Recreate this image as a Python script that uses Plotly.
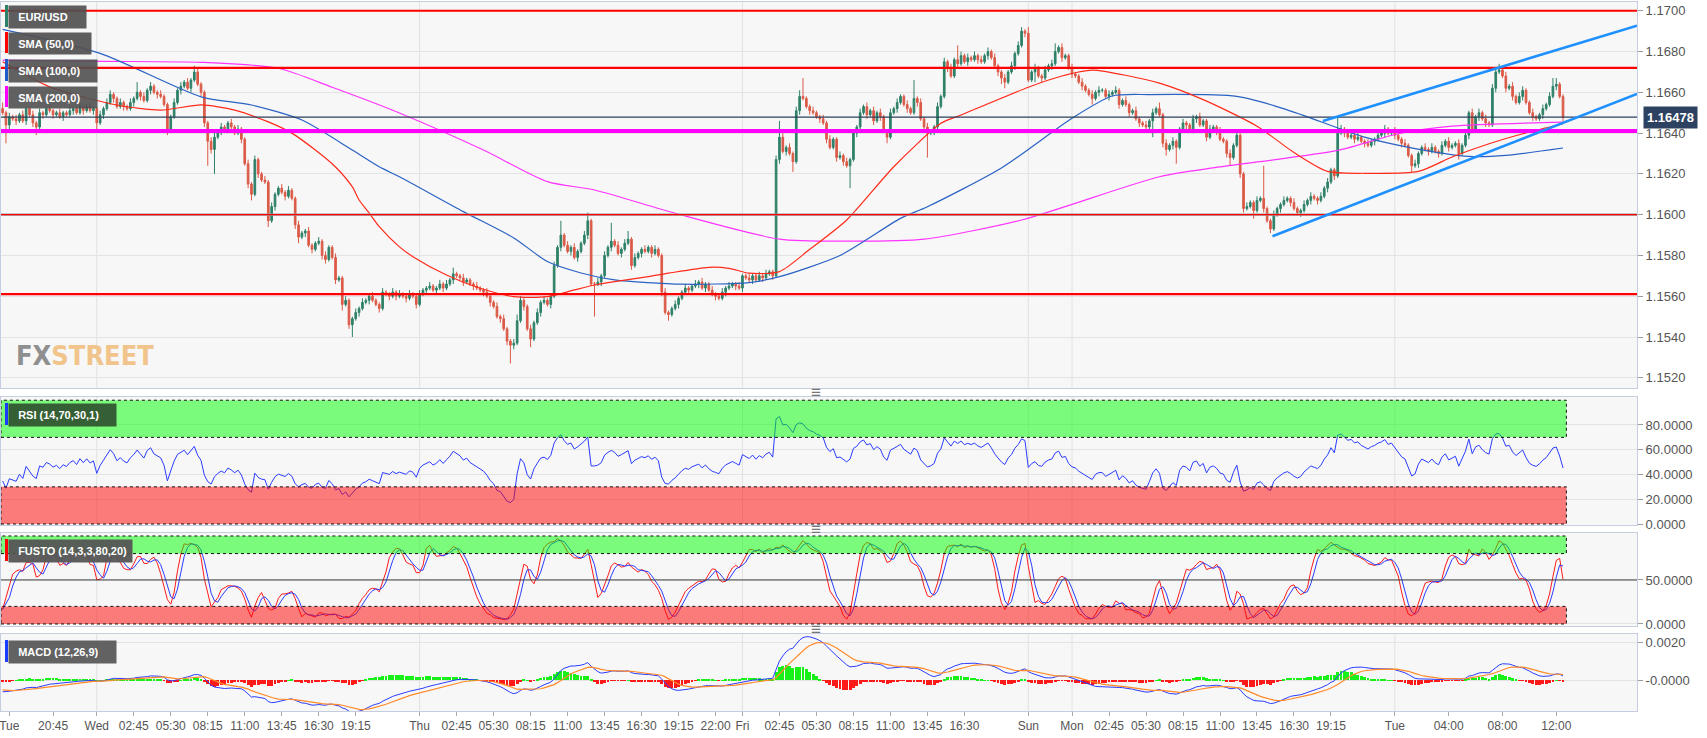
import numpy as np
import pandas as pd
import plotly.graph_objects as go
from plotly.subplots import make_subplots

# ---------------------------------------------------------------- data
PIP = 0.0001
BASE_PRICE = 1.1500          # closes / wicks below are pips above this base

first_open_pips = 152
close_pips = [
    150, 144, 148, 147, 146, 149, 146, 152, 149, 145,
    143, 150, 149, 152, 151, 149, 150, 148, 150, 149,
    151, 152, 150, 153, 151, 153, 151, 152, 145, 149,
    152, 155, 159, 157, 153, 155, 153, 152, 155, 157,
    160, 158, 156, 161, 163, 160, 159, 158, 154, 142,
    148, 155, 161, 163, 165, 162, 166, 170, 164, 160,
    145, 136, 132, 138, 141, 143, 141, 145, 143, 140,
    142, 137, 125, 115, 110, 127, 120, 117, 116, 97,
    104, 110, 113, 111, 109, 112, 108, 95, 89, 91,
    92, 85, 83, 86, 87, 80, 78, 84, 79, 68,
    69, 56, 58, 46, 49, 52, 54, 57, 58, 60,
    58, 56, 54, 62, 61, 60, 62, 60, 61, 60,
    59, 61, 60, 56, 61, 63, 64, 65, 63, 64,
    66, 64, 66, 68, 71, 70, 69, 67, 68, 66,
    65, 64, 63, 62, 60, 57, 55, 50, 49, 44,
    38, 36, 37, 48, 58, 55, 44, 39, 47, 52,
    57, 58, 56, 60, 75, 84, 90, 85, 82, 84,
    79, 82, 86, 90, 97, 66, 66, 67, 70, 80,
    84, 87, 85, 81, 83, 86, 88, 75, 79, 81,
    83, 82, 84, 81, 83, 80, 62, 52, 51, 54,
    56, 59, 62, 64, 63, 65, 66, 67, 64, 66,
    63, 61, 60, 59, 62, 64, 65, 66, 65, 64,
    70, 69, 68, 70, 68, 70, 69, 71, 72, 70,
    127, 138, 131, 133, 130, 126, 151, 158, 157, 153,
    151, 150, 148, 147, 145, 137, 133, 137, 128, 129,
    126, 124, 127, 140, 143, 150, 153, 149, 151, 146,
    150, 148, 141, 138, 150, 152, 155, 158, 154, 152,
    150, 157, 155, 147, 143, 140, 141, 143, 153, 158,
    175, 172, 168, 176, 174, 178, 175, 177, 176, 178,
    176, 175, 178, 180, 177, 173, 170, 167, 165, 170,
    173, 179, 183, 190, 189, 166, 170, 172, 168, 167,
    171, 173, 174, 180, 182, 177, 178, 172, 169, 168,
    165, 163, 161, 159, 157, 160, 161, 161, 158, 159,
    160, 161, 154, 156, 154, 150, 151, 147, 145, 144,
    143, 146, 150, 152, 149, 135, 132, 134, 136, 133,
    142, 145, 144, 141, 147, 148, 144, 146, 138, 142,
    143, 141, 137, 136, 130, 128, 134, 139, 120, 103,
    104, 106, 102, 107, 108, 103, 97, 93, 100, 103,
    105, 107, 108, 106, 103, 101, 102, 105, 107, 109,
    108, 107, 109, 113, 116, 122, 119, 140, 142, 140,
    138, 139, 137, 138, 136, 135, 134, 136, 137, 139,
    140, 142, 140, 141, 139, 137, 135, 134, 129, 124,
    125, 130, 133, 132, 131, 133, 131, 130, 134, 136,
    133, 134, 135, 130, 134, 139, 150, 141, 148, 150,
    147, 145, 144, 162, 170, 171, 168, 162, 163, 158,
    155, 158, 161, 155, 150, 148, 147, 149, 152, 154,
    158, 163, 164, 158, 147.8]

wick_up_pips = [
    3, 1, 2, 1, 2, 1, 2, 1, 1, 2,   1, 2, 1, 1, 2, 1, 1, 2, 1, 1,
    2, 1, 1, 2, 1, 1, 2, 1, 1, 2,   1, 2, 2, 1, 1, 2, 1, 1, 2, 1,
    5, 1, 2, 1, 2, 1, 1, 2, 1, 1,   1, 2, 1, 2, 1, 2, 1, 3, 2, 1,
    1, 1, 2, 3, 1, 2, 1, 1, 2, 1,   2, 1, 1, 2, 1, 2, 1, 1, 2, 1,
    2, 1, 1, 2, 1, 2, 1, 1, 2, 1,   1, 2, 1, 1, 2, 1, 2, 1, 1, 2,
    1, 1, 2, 1, 1, 2, 1, 2, 1, 1,   2, 1, 1, 2, 1, 1, 2, 1, 2, 1,
    1, 2, 1, 1, 2, 1, 1, 2, 1, 1,   2, 1, 2, 1, 3, 1, 1, 2, 1, 1,
    1, 2, 1, 1, 2, 1, 1, 2, 1, 2,   1, 1, 2, 3, 2, 1, 1, 2, 1, 2,
    1, 2, 1, 1, 2, 1, 7, 1, 2, 1,   2, 1, 1, 2, 4, 1, 1, 2, 1, 2,
    1, 9, 1, 2, 1, 2, 4, 1, 2, 1,   1, 2, 1, 1, 2, 1, 1, 2, 1, 1,
    2, 1, 1, 2, 1, 1, 2, 1, 2, 1,   1, 2, 1, 1, 2, 1, 2, 1, 1, 2,
    1, 1, 2, 1, 1, 2, 1, 2, 1, 1,   2, 8, 2, 1, 2, 1, 2, 3, 9, 1,
    1, 2, 1, 1, 2, 1, 2, 1, 1, 2,   1, 2, 1, 2, 1, 2, 1, 2, 1, 2,
    1, 2, 1, 1, 2, 1, 2, 1, 1, 2,   1, 9, 1, 2, 1, 2, 1, 1, 2, 1,
    2, 1, 2, 1, 7, 2, 1, 2, 1, 2,   1, 2, 1, 2, 1, 2, 1, 1, 2, 1,
    2, 1, 2, 2, 1, 3, 1, 2, 1, 1,   2, 1, 2, 4, 1, 2, 1, 1, 2, 1,
    1, 2, 1, 1, 2, 1, 2, 1, 1, 2,   1, 2, 1, 1, 2, 1, 1, 2, 1, 1,
    2, 1, 2, 1, 3, 1, 2, 1, 2, 1,   1, 2, 1, 1, 2, 1, 2, 1, 1, 2,
    1, 1, 2, 1, 1, 2, 1, 2, 1, 1,   2, 1, 1, 2, 1, 16, 1, 1, 2, 1,
    1, 2, 1, 1, 2, 1, 1, 2, 1, 2,   1, 1, 2, 1, 2, 1, 1, 8, 2, 1,
    2, 1, 1, 2, 1, 1, 2, 1, 1, 2,   1, 2, 1, 1, 2, 1, 1, 2, 1, 1,
    2, 1, 1, 2, 1, 2, 1, 1, 2, 1,   2, 1, 1, 2, 1, 2, 1, 2, 1, 2,
    1, 2, 1, 2, 2, 3, 1, 2, 1, 2,   1, 2, 2, 1, 1, 2, 1, 1, 2, 1,
    2, 4, 3, 1, 1]

wick_dn_pips = [
    1, 9, 2, 1, 2, 1, 1, 2, 1, 2,   4, 1, 2, 1, 1, 2, 1, 1, 2, 1,
    1, 2, 1, 1, 2, 1, 1, 2, 4, 1,   2, 1, 1, 2, 1, 1, 2, 1, 1, 2,
    1, 2, 1, 1, 2, 1, 2, 1, 1, 3,   2, 1, 1, 2, 1, 1, 2, 1, 1, 2,
    2, 12, 2, 12, 1, 2, 1, 1, 2, 1, 1, 2, 1, 2, 3, 1, 2, 1, 1, 3,
    1, 2, 1, 1, 2, 1, 1, 2, 3, 1,   2, 1, 2, 1, 1, 2, 2, 1, 1, 2,
    1, 3, 1, 2, 6, 1, 2, 1, 1, 2,   1, 1, 2, 1, 1, 2, 1, 2, 1, 1,
    2, 1, 1, 2, 1, 1, 2, 1, 1, 2,   1, 2, 1, 1, 2, 1, 1, 2, 1, 1,
    2, 1, 1, 2, 1, 2, 1, 1, 2, 1,   2, 9, 2, 1, 1, 2, 1, 4, 1, 1,
    2, 1, 1, 2, 1, 1, 2, 1, 1, 2,   1, 2, 1, 1, 2, 1, 16, 1, 2, 1,
    1, 2, 1, 1, 2, 1, 1, 2, 1, 1,   2, 1, 1, 2, 1, 1, 2, 1, 3, 1,
    1, 2, 1, 1, 2, 1, 1, 2, 1, 2,   1, 1, 2, 1, 1, 2, 1, 1, 2, 1,
    2, 1, 1, 2, 1, 1, 2, 1, 1, 2,   1, 2, 1, 2, 1, 5, 1, 2, 1, 1,
    2, 1, 1, 2, 1, 2, 1, 1, 2, 1,   2, 1, 11, 1, 2, 1, 1, 2, 1, 2,
    1, 2, 1, 3, 1, 1, 2, 1, 1, 2,   1, 1, 2, 1, 2, 12, 1, 2, 1, 1,
    1, 2, 1, 1, 2, 1, 1, 2, 1, 1,   2, 1, 1, 2, 1, 1, 2, 3, 3, 1,
    1, 2, 1, 1, 2, 1, 1, 5, 1, 2,   1, 1, 2, 1, 1, 2, 1, 1, 2, 1,
    1, 2, 1, 1, 3, 1, 2, 1, 1, 2,   1, 1, 2, 1, 1, 2, 1, 1, 2, 1,
    2, 1, 8, 1, 1, 2, 3, 1, 2, 8,   1, 1, 2, 1, 1, 2, 1, 1, 2, 1,
    1, 2, 1, 1, 2, 4, 1, 1, 2, 2,   1, 1, 4, 1, 1, 2, 1, 2, 1, 1,
    2, 1, 1, 2, 1, 1, 2, 1, 1, 2,   1, 2, 1, 1, 2, 1, 2, 1, 1, 2,
    1, 1, 2, 1, 1, 2, 1, 1, 2, 1,   1, 2, 1, 1, 2, 1, 2, 1, 1, 3,
    1, 2, 1, 1, 2, 1, 1, 2, 1, 1,   2, 1, 1, 3, 1, 1, 2, 1, 1, 2,
    1, 2, 1, 1, 2, 1, 1, 2, 1, 2,   1, 1, 2, 1, 1, 2, 1, 1, 2, 1,
    1, 1, 2, 1, 2]

# moving averages (bar number, pips above base)
sma50_bars = [0, 14, 34, 47, 59, 69, 79, 86, 93, 99, 104, 106, 109, 112, 118, 122, 132, 142,
              152, 162, 170, 176, 182, 192, 198, 210, 216, 222, 231, 240, 251, 265, 279, 285,
              305, 315, 324, 335, 344, 357, 373, 384, 394, 405, 421, 431, 442, 452, 464]
sma50_pips = [175.0, 162.7, 153.8, 151.3, 153.8, 151.3, 145.5, 140.0, 131.7, 123.4, 113.6,
              107.2, 100.8, 94.1, 84.2, 79.4, 70.4, 63.9, 59.8, 59.8, 63.1, 65.5, 67.2, 69.6,
              71.3, 74.2, 73.7, 71.3, 72.1, 83.0, 97.4, 123.5, 144.8, 148.9, 162.5, 168.0,
              170.9, 168.0, 164.5, 156.4, 143.4, 130.5, 121.2, 120.3, 121.2, 128.3, 134.8,
              139.7, 144.6]
sma100_bars = [0, 29, 59, 74, 89, 104, 112, 118, 137, 152, 162, 172, 182, 202, 222, 231, 249,
               267, 275, 297, 318, 330, 341, 367, 378, 387, 405, 420, 436, 447, 464]
sma100_pips = [190.9, 179.1, 157.8, 153.8, 146.4, 131.7, 123.5, 118.6, 101.5, 88.6, 77.0, 71.4,
               68.0, 65.9, 66.7, 69.6, 80.0, 98.2, 103.9, 122.9, 147.3, 158.2, 158.9, 158.0,
               153.5, 148.6, 138.0, 132.4, 128.6, 129.1, 132.7]
sma200_bars = [0, 29, 59, 82, 98, 118, 143, 162, 176, 200, 231, 252, 274, 303, 344, 362, 397,
               415, 431, 464]
sma200_pips = [175.8, 175.2, 174.7, 171.8, 162.5, 149.9, 131.7, 116.2, 112.1, 100.7, 88.0, 87.0,
               88.0, 97.4, 118.6, 123.4, 131.5, 139.7, 143.4, 145.4]

# drawn levels / trend lines
levels_red_thick = [1.1700, 1.1672, 1.1561]
levels_red_thin = [1.1600]
level_magenta = 1.1641
last_price = 1.16478
trend_upper_bars = [392.6, 486.0]
trend_upper_price = [1.16459, 1.16927]
trend_lower_bars = [377.6, 486.0]
trend_lower_price = [1.15894, 1.16592]

# time axis
session1 = ("2018-09-25 17:00", "2018-09-28 21:00")
session2_start = "2018-09-30 20:45"
tick_text = ["Tue", "20:45", "Wed", "02:45", "05:30", "08:15", "11:00", "13:45", "16:30", "19:15",
             "Thu", "02:45", "05:30", "08:15", "11:00", "13:45", "16:30", "19:15", "22:00",
             "Fri", "02:45", "05:30", "08:15", "11:00", "13:45", "16:30",
             "Sun", "Mon", "02:45", "05:30", "08:15", "11:00", "13:45", "16:30", "19:15",
             "Tue", "04:00", "08:00", "12:00"]
tick_times = ["2018-09-25 17:30", "2018-09-25 20:45",
              "2018-09-26 00:00", "2018-09-26 02:45", "2018-09-26 05:30", "2018-09-26 08:15",
              "2018-09-26 11:00", "2018-09-26 13:45", "2018-09-26 16:30", "2018-09-26 19:15",
              "2018-09-27 00:00", "2018-09-27 02:45", "2018-09-27 05:30", "2018-09-27 08:15",
              "2018-09-27 11:00", "2018-09-27 13:45", "2018-09-27 16:30", "2018-09-27 19:15",
              "2018-09-27 22:00",
              "2018-09-28 00:00", "2018-09-28 02:45", "2018-09-28 05:30", "2018-09-28 08:15",
              "2018-09-28 11:00", "2018-09-28 13:45", "2018-09-28 16:30",
              "2018-09-30 20:45",
              "2018-10-01 00:00", "2018-10-01 02:45", "2018-10-01 05:30", "2018-10-01 08:15",
              "2018-10-01 11:00", "2018-10-01 13:45", "2018-10-01 16:30", "2018-10-01 19:15",
              "2018-10-02 00:00", "2018-10-02 04:00", "2018-10-02 08:00", "2018-10-02 12:00"]

# indicator state at the first visible bar
rsi_seed_gain_pips, rsi_seed_loss_pips = 0.8, 1.5
macd_seed, macd_signal_seed = -0.0006, -0.0005

# ---------------------------------------------------------------- build series
n = len(close_pips)


def fit(a, fill):
    a = list(a)[:n]
    return a + [fill] * (n - len(a))


wu = np.array(fit(wick_up_pips, 1), dtype=float)
wd = np.array(fit(wick_dn_pips, 1), dtype=float)
c = BASE_PRICE + np.array(close_pips, dtype=float) * PIP
o = np.concatenate([[BASE_PRICE + first_open_pips * PIP], c[:-1]])
hi = np.maximum(o, c) + wu * PIP
lo = np.minimum(o, c) - wd * PIP
idx = np.arange(n)

t1 = pd.date_range(session1[0], session1[1], freq="15min")
t2 = pd.date_range(session2_start, periods=n - len(t1), freq="15min")
times = t1.append(t2)
pos = {t: i for i, t in enumerate(times)}
tickvals = [pos[pd.Timestamp(s)] for s in tick_times]
day_starts = [i for i in range(1, n) if times[i].date() != times[i - 1].date()]

# RSI (Wilder, 14)
ag, al = rsi_seed_gain_pips * PIP, rsi_seed_loss_pips * PIP
rsi = []
for i in range(n):
    if i > 0:
        d = c[i] - c[i - 1]
        ag = (ag * 13 + max(d, 0)) / 14
        al = (al * 13 + max(-d, 0)) / 14
    rsi.append(100 - 100 / (1 + ag / al))

# Full stochastic (14,3,3)
hh = pd.Series(hi).rolling(14, min_periods=1).max()
ll = pd.Series(lo).rolling(14, min_periods=1).min()
raw = (pd.Series(c) - ll) / (hh - ll) * 100
stoch_k = raw.rolling(3, min_periods=1).mean()
stoch_d = stoch_k.rolling(3, min_periods=1).mean()

# MACD (12,26,9)
e12 = c[0]
e26 = c[0] - macd_seed
sig = macd_signal_seed
macd, signal = [], []
for i in range(n):
    if i > 0:
        e12 += 2 / 13 * (c[i] - e12)
        e26 += 2 / 27 * (c[i] - e26)
        sig += 2 / 10 * ((e12 - e26) - sig)
    macd.append(e12 - e26)
    signal.append(sig)
macd = np.array(macd)
signal = np.array(signal)
hist = macd - signal

# ---------------------------------------------------------------- layout helpers
W, H = 1707, 738
ML, MR, MT, MB = 1, 70, 2, 27
PW, PH = W - ML - MR, H - MT - MB
X0, X1 = -0.48, 486.0
FONT = "Liberation Sans, Arial, sans-serif"


def xp(px):
    return (px - ML) / PW


def yp(py):
    return (H - MB - py) / PH


GREEN_C = "#2e8068"
RED_C = "#db5a47"

fig = make_subplots(rows=4, cols=1, shared_xaxes=True, vertical_spacing=0.01)

fig.add_trace(go.Candlestick(
    x=idx, open=o, high=hi, low=lo, close=c,
    increasing=dict(line=dict(color=GREEN_C, width=1), fillcolor=GREEN_C),
    decreasing=dict(line=dict(color=RED_C, width=1), fillcolor=RED_C),
    whiskerwidth=0, showlegend=False, hoverinfo="skip"), row=1, col=1)

for bars, pips, col in [(sma200_bars, sma200_pips, "#ff33ff"),
                        (sma100_bars, sma100_pips, "#2a62c4"),
                        (sma50_bars, sma50_pips, "#ff2a1a")]:
    fig.add_trace(go.Scatter(x=bars, y=[BASE_PRICE + p * PIP for p in pips], mode="lines",
                             line=dict(color=col, width=1.2, shape="spline", smoothing=0.7),
                             showlegend=False, hoverinfo="skip"), row=1, col=1)

fig.add_trace(go.Scatter(x=idx, y=rsi, mode="lines", line=dict(color="#2a3cff", width=1),
                         showlegend=False, hoverinfo="skip"), row=2, col=1)
fig.add_trace(go.Scatter(x=idx, y=stoch_k, mode="lines", line=dict(color="#ff1a1a", width=1),
                         showlegend=False, hoverinfo="skip"), row=3, col=1)
fig.add_trace(go.Scatter(x=idx, y=stoch_d, mode="lines", line=dict(color="#2a3cff", width=1),
                         showlegend=False, hoverinfo="skip"), row=3, col=1)
fig.add_trace(go.Bar(x=idx, y=hist, marker=dict(color=["#19f019" if v >= 0 else "#ff1a1a" for v in hist],
                                               line=dict(width=0)),
                     width=0.85, showlegend=False, hoverinfo="skip"), row=4, col=1)
fig.add_trace(go.Scatter(x=idx, y=macd, mode="lines", line=dict(color="#2a3cff", width=1),
                         showlegend=False, hoverinfo="skip"), row=4, col=1)
fig.add_trace(go.Scatter(x=idx, y=signal, mode="lines", line=dict(color="#ff8a2a", width=1.2),
                         showlegend=False, hoverinfo="skip"), row=4, col=1)

shapes = []
annotations = []

# day separators in every panel
for s in ["", "2", "3", "4"]:
    for d in day_starts:
        shapes.append(dict(type="line", xref="x" + s, yref="y" + s + " domain", x0=d, x1=d, y0=0, y1=1,
                           line=dict(color="#e2e2e2", width=1), layer="below"))

# price levels
for lv in levels_red_thin:
    shapes.append(dict(type="line", xref="x domain", yref="y", x0=0, x1=1, y0=lv, y1=lv,
                       line=dict(color="#9a9a9a", width=2.2)))
    shapes.append(dict(type="line", xref="x domain", yref="y", x0=0, x1=1, y0=lv, y1=lv,
                       line=dict(color="#ff0000", width=1.2)))
for lv in levels_red_thick:
    shapes.append(dict(type="line", xref="x domain", yref="y", x0=0, x1=1, y0=lv, y1=lv,
                       line=dict(color="#ff0000", width=2.2)))
shapes.append(dict(type="line", xref="x domain", yref="y", x0=0, x1=1, y0=last_price, y1=last_price,
                   line=dict(color="#2c3f5a", width=1.2)))
shapes.append(dict(type="line", xref="x domain", yref="y", x0=0, x1=1, y0=level_magenta, y1=level_magenta,
                   line=dict(color="#ff00ff", width=4)))
for bx, py in [(trend_upper_bars, trend_upper_price), (trend_lower_bars, trend_lower_price)]:
    shapes.append(dict(type="line", xref="x", yref="y", x0=bx[0], x1=bx[1], y0=py[0], y1=py[1],
                       line=dict(color="#1e90ff", width=2.6)))

# overbought / oversold bands (drawn over the lines, translucent)
for s, top, bot in [("2", 70, 30), ("3", 80, 20)]:
    shapes.append(dict(type="rect", xref="x" + s, yref="y" + s, x0=X0, x1=n, y0=top, y1=100,
                       fillcolor="rgba(0,255,0,0.5)", line=dict(color="#111", width=1, dash="dot"),
                       layer="above"))
    shapes.append(dict(type="rect", xref="x" + s, yref="y" + s, x0=X0, x1=n, y0=0, y1=bot,
                       fillcolor="rgba(255,0,0,0.5)", line=dict(color="#111", width=1, dash="dot"),
                       layer="above"))
shapes.append(dict(type="line", xref="x3 domain", yref="y3", x0=0, x1=1, y0=50, y1=50,
                   line=dict(color="#3c3c3c", width=1)))


def label_box(text, x0, x1, y0, y1, stripe, bg):
    shapes.append(dict(type="rect", xref="paper", yref="paper", x0=xp(x0), x1=xp(x0 + 3),
                       y0=yp(y1), y1=yp(y0), fillcolor=stripe, line=dict(width=0), layer="above"))
    annotations.append(dict(xref="paper", yref="paper", x=xp(x0 + 3), y=yp(y0), xanchor="left",
                            yanchor="top", text="&nbsp;&nbsp;<b>" + text + "</b>",
                            showarrow=False, align="left", valign="middle",
                            width=(x1 - x0 - 3) - 6, height=(y1 - y0) - 6,
                            borderpad=3, bgcolor=bg, font=dict(color="white", size=11, family=FONT)))


label_box("EUR/USD", 5, 85, 5, 27, "#2e8068", "rgba(80,80,80,0.92)")
label_box("SMA (50,0)", 5, 90, 32, 53, "#ff0000", "rgba(80,80,80,0.92)")
label_box("SMA (100,0)", 5, 96, 59, 81, "#1f5bc8", "rgba(80,80,80,0.9)")
label_box("SMA (200,0)", 5, 96, 86, 107, "#ff00ff", "rgba(80,80,80,0.9)")
label_box("RSI (14,70,30,1)", 5, 115, 403, 425, "#1a3cff", "#355f35")
label_box("FUSTO (14,3,3,80,20)", 5, 131, 539, 561, "#ff0000", "rgba(85,85,85,0.95)")
label_box("MACD (12,26,9)", 5, 115, 640, 662, "#1a3cff", "rgba(90,90,90,0.95)")

annotations.append(dict(xref="paper", yref="paper", x=xp(14), y=yp(355), xanchor="left", yanchor="middle",
                        showarrow=False,
                        text="<b><span style='color:#8f8f8f'>FX</span><span style='color:#f1c48c'>STREET</span></b>",
                        font=dict(size=27, family="Liberation Sans Narrow, DejaVu Sans Condensed, sans-serif")))
annotations.append(dict(xref="paper", yref="y", x=1, y=last_price, xanchor="left", yanchor="middle",
                        xshift=6, showarrow=False, text="<b>1.16478</b>", bgcolor="#2c4260", borderpad=3,
                        font=dict(color="white", size=13, family=FONT)))
for hy in [392, 529, 629]:
    annotations.append(dict(xref="paper", yref="paper", x=xp(816), y=yp(hy), xanchor="center",
                            yanchor="middle", showarrow=False, text="≡",
                            font=dict(color="#777", size=17, family=FONT)))

axis_common = dict(showline=True, mirror=True, linecolor="#c6cde0", linewidth=1, zeroline=False,
                   automargin=False)
ytick_common = dict(side="right", ticks="outside", ticklen=5, tickcolor="#9a9a9a",
                    tickfont=dict(size=13, color="#555", family=FONT), gridcolor="#e3e3e3",
                    showgrid=True, fixedrange=True)

fig.update_layout(
    width=W, height=H, margin=dict(l=ML, r=MR, t=MT, b=MB, autoexpand=False),
    paper_bgcolor="white", plot_bgcolor="#f7f7f7", hovermode=False, showlegend=False,
    shapes=shapes, annotations=annotations, bargap=0,
    xaxis=dict(rangeslider=dict(visible=False)),
    yaxis=dict(domain=[yp(388), yp(2)], range=[1.15150, 1.17043], tickmode="linear", tick0=1.152,
               dtick=0.002, tickformat=".4f", **ytick_common, **axis_common),
    yaxis2=dict(domain=[yp(525), yp(397)], range=[-0.8, 102.6], tickvals=[0, 20, 40, 60, 80],
                tickformat=".4f", **ytick_common, **axis_common),
    yaxis3=dict(domain=[yp(626), yp(533)], range=[-2.3, 103.4], tickvals=[0, 50],
                tickformat=".4f", **ytick_common, **axis_common),
    yaxis4=dict(domain=[yp(711), yp(634)], range=[-0.0016, 0.00242], tickvals=[0.002, 0],
                ticktext=["0.0020", "-0.0000"], **ytick_common, **axis_common),
)
fig.update_xaxes(range=[X0, X1], showgrid=False, **axis_common)
fig.update_xaxes(tickmode="array", tickvals=tickvals, ticktext=tick_text, ticks="outside", ticklen=4,
                 tickcolor="#aaa", tickfont=dict(size=12, color="#555", family=FONT),
                 ticklabeloverflow="allow", row=4, col=1)

fig.write_html("out.html", config={"displayModeBar": False},
               post_script="document.body.style.margin='0';document.body.style.overflow='hidden';")
